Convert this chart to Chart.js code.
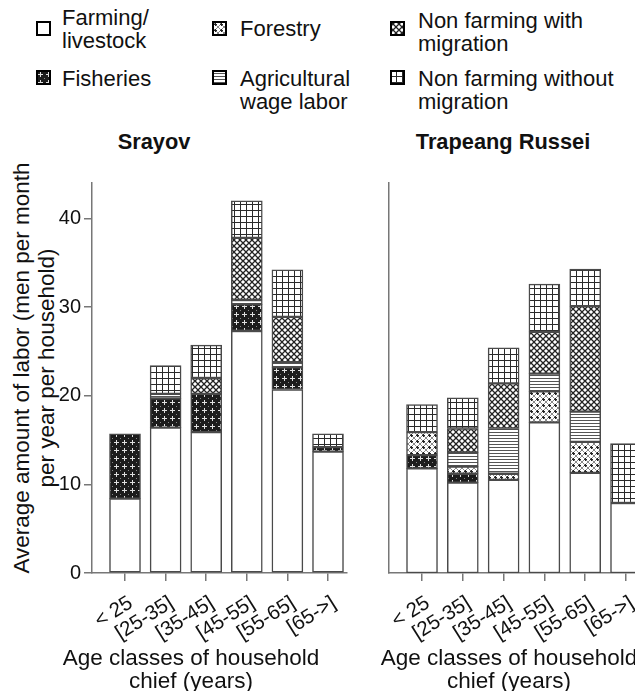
<!DOCTYPE html>
<html>
<head>
<meta charset="utf-8">
<script src="https://cdn.jsdelivr.net/npm/chart.js@4.4.1/dist/chart.umd.min.js"></script>
<style>
html, body { margin: 0; padding: 0; background: #fff; }
body { width: 635px; height: 691px; overflow: hidden; position: relative;
       font-family: 'Liberation Sans', Arial, Helvetica, sans-serif; color: #111; }
.lg-text { position: absolute; font-size: 22px; line-height: 23px; white-space: nowrap; }
.lg-sw { position: absolute; }
.ptitle { position: absolute; top: 129px; font-weight: bold; font-size: 21.8px; white-space: nowrap; transform: translateX(-50%); }
.xtitle { position: absolute; top: 646px; width: 340px; font-size: 22.5px; line-height: 23px; text-align: center; white-space: nowrap; transform: translateX(-50%); }
#ytitle { position: absolute; left: -196px; top: 343px; width: 460px; height: 50px; font-size: 22.5px; line-height: 25px;
          text-align: center; white-space: nowrap; transform: rotate(-90deg); }
.wrap { position: absolute; top: 150px; }
</style>
</head>
<body>
<div id="legend"></div>
<div class="ptitle" style="left:154px">Srayov</div>
<div class="ptitle" style="left:503px">Trapeang Russei</div>
<div id="ytitle">Average amount of labor (men per month<br>per year per household)</div>
<div class="wrap" style="left:0px"><canvas id="left" width="360" height="541"></canvas></div>
<div class="wrap" style="left:360px"><canvas id="right" width="300" height="541"></canvas></div>
<div class="xtitle" style="left:191px">Age classes of household<br>chief (years)</div>
<div class="xtitle" style="left:509px">Age classes of household<br>chief (years)</div>
<script>
// age classes of the household chief (x tick labels)
var ageClasses = ['< 25', '[25-35]', '[35-45]', '[45-55]', '[55-65]', '[65->]'];
var yTicks = [0, 10, 20, 30, 40];

var sectors = ['Farming/livestock', 'Fisheries', 'Forestry', 'Agricultural wage labor',
               'Non farming with migration', 'Non farming without migration'];
var legendLines = [['Farming/', 'livestock'], ['Fisheries'], ['Forestry'],
                   ['Agricultural', 'wage labor'], ['Non farming with', 'migration'],
                   ['Non farming without', 'migration']];

// Srayov
var srFarming      = [8.4, 16.4, 15.9, 27.3, 20.7, 13.7];
var srFisheries    = [7.3, 3.3, 4.3, 3.0, 2.5, 0.5];
var srForestry     = [0, 0, 0, 0, 0, 0];
var srAgriWage     = [0, 0.5, 0, 0.5, 0.6, 0];
var srNonFarmMig   = [0, 0, 1.8, 7.0, 5.1, 0];
var srNonFarmNoMig = [0, 3.2, 3.7, 4.2, 5.3, 1.5];

// Trapeang Russei
var trFarming      = [11.8, 10.2, 10.5, 17.0, 11.3, 7.9];
var trFisheries    = [1.5, 1.0, 0, 0, 0, 0];
var trForestry     = [2.6, 0.8, 0.7, 3.5, 3.5, 0];
var trAgriWage     = [0, 1.6, 5.1, 2.0, 3.4, 0];
var trNonFarmMig   = [0, 2.7, 5.1, 4.7, 11.9, 0];
var trNonFarmNoMig = [3.1, 3.45, 4.0, 5.4, 4.2, 6.7];

// hatch patterns, one small tile each
function makePattern(w, h, draw) {
    var c = document.createElement('canvas');
    c.width = w; c.height = h;
    var g = c.getContext('2d');
    draw(g, w, h);
    return g.createPattern(c, 'repeat');
}
var fisheriesPat = makePattern(8, 8, function (g) {
    g.fillStyle = '#1c1c1c'; g.fillRect(0, 0, 8, 8);
    g.fillStyle = '#e0e0e0';
    g.fillRect(4, 2, 1, 5); g.fillRect(2, 4, 5, 1);
    g.fillStyle = '#888'; g.fillRect(0, 0, 1, 1);
});
var forestryPat = makePattern(6, 6, function (g) {
    g.fillStyle = '#fff'; g.fillRect(0, 0, 6, 6);
    g.strokeStyle = '#8a8a8a'; g.lineWidth = 1;
    g.beginPath(); g.moveTo(0, 0); g.lineTo(6, 6); g.moveTo(6, 0); g.lineTo(0, 6); g.stroke();
    g.fillStyle = '#222';
    g.fillRect(2, 3, 3, 1); g.fillRect(3, 2, 1, 3);
});
var agriPat = makePattern(4, 3, function (g) {
    g.fillStyle = '#fff'; g.fillRect(0, 0, 4, 3);
    g.fillStyle = '#555'; g.fillRect(0, 0, 4, 1);
});
var migPat = makePattern(6, 6, function (g) {
    g.fillStyle = '#fff'; g.fillRect(0, 0, 6, 6);
    g.strokeStyle = '#222'; g.lineWidth = 1.3;
    g.beginPath();
    g.moveTo(-1, -1); g.lineTo(7, 7); g.moveTo(7, -1); g.lineTo(-1, 7);
    g.stroke();
});
var noMigPat = makePattern(6, 6, function (g) {
    g.fillStyle = '#fff'; g.fillRect(0, 0, 6, 6);
    g.fillStyle = '#2a2a2a'; g.fillRect(0, 0, 6, 1); g.fillRect(0, 0, 1, 6);
});
var fills = ['#ffffff', fisheriesPat, forestryPat, agriPat, migPat, noMigPat];

// legend (html)
var lgPos = [
    { sx: 36, sy: 21, tx: 62, ty: 6 },
    { sx: 36, sy: 70, tx: 62, ty: 67 },
    { sx: 212, sy: 21, tx: 240, ty: 17 },
    { sx: 212, sy: 70, tx: 240, ty: 67 },
    { sx: 390, sy: 21, tx: 418, ty: 9 },
    { sx: 390, sy: 70, tx: 418, ty: 67 }
];
var legend = document.getElementById('legend');
sectors.forEach(function (name, k) {
    var p = lgPos[k];
    var sw = document.createElement('canvas');
    sw.width = 15; sw.height = 15;
    sw.className = 'lg-sw';
    sw.style.left = p.sx + 'px'; sw.style.top = p.sy + 'px';
    var g = sw.getContext('2d');
    g.fillStyle = fills[k]; g.fillRect(0, 0, 15, 15);
    g.strokeStyle = '#000'; g.lineWidth = 2; g.strokeRect(1, 1, 13, 13);
    legend.appendChild(sw);
    var t = document.createElement('div');
    t.className = 'lg-text';
    t.style.left = p.tx + 'px'; t.style.top = p.ty + 'px';
    t.innerHTML = legendLines[k].join('<br>');
    legend.appendChild(t);
});

Chart.defaults.font.family = "'Liberation Sans', Arial, Helvetica, sans-serif";
Chart.defaults.font.size = 20;
Chart.defaults.color = '#111';

function datasets(seriesList) {
    return seriesList.map(function (vals, k) {
        return {
            label: sectors[k],
            data: vals.map(function (v, i) { return { x: i, y: v > 0 ? v : null }; }),
            backgroundColor: fills[k],
            borderColor: '#4a4a4a',
            borderWidth: 1.5,
            borderSkipped: false,
            grouped: false,
            categoryPercentage: 1,
            barPercentage: 1,
            maxBarThickness: 31
        };
    });
}

function makeChart(id, seriesList, showY, xMin, xMax, yWidth, pad) {
    return new Chart(document.getElementById(id), {
        type: 'bar',
        data: { datasets: datasets(seriesList) },
        options: {
            responsive: false,
            animation: false,
            devicePixelRatio: 1,
            layout: { padding: pad },
            plugins: { legend: { display: false }, tooltip: { enabled: false } },
            scales: {
                x: {
                    type: 'linear', min: xMin, max: xMax, offset: false, stacked: true,
                    afterBuildTicks: function (s) { s.ticks = ageClasses.map(function (c, i) { return { value: i }; }); },
                    afterFit: function (s) { s.height = 118; },
                    ticks: { autoSkip: false, minRotation: 32, maxRotation: 32, padding: 10, labelOffset: 6,
                             font: { size: 20.5 },
                             callback: function (v) { return ageClasses[v]; } },
                    grid: { offset: false, drawOnChartArea: false, tickLength: 8, color: '#777', lineWidth: 1.5 },
                    border: { color: '#777', width: 1.5 }
                },
                y: {
                    min: 0, max: 44, stacked: true,
                    afterBuildTicks: function (s) { s.ticks = yTicks.map(function (v) { return { value: v }; }); },
                    afterFit: function (s) { s.width = yWidth; },
                    ticks: { display: showY, padding: 3 },
                    grid: { display: showY, drawOnChartArea: false, tickLength: 8, color: '#777', lineWidth: 1.5 },
                    border: { color: '#777', width: 1.5 }
                }
            }
        }
    });
}

makeChart('left',
    [srFarming, srFisheries, srForestry, srAgriWage, srNonFarmMig, srNonFarmNoMig],
    true, -0.813, 5.468, 92, { top: 33, right: 13, left: 0, bottom: 0 });
makeChart('right',
    [trFarming, trFisheries, trForestry, trAgriWage, trNonFarmMig, trNonFarmNoMig],
    false, -0.809, 5.49, 29, { top: 33, right: 14, left: 0, bottom: 0 });
</script>
</body>
</html>
